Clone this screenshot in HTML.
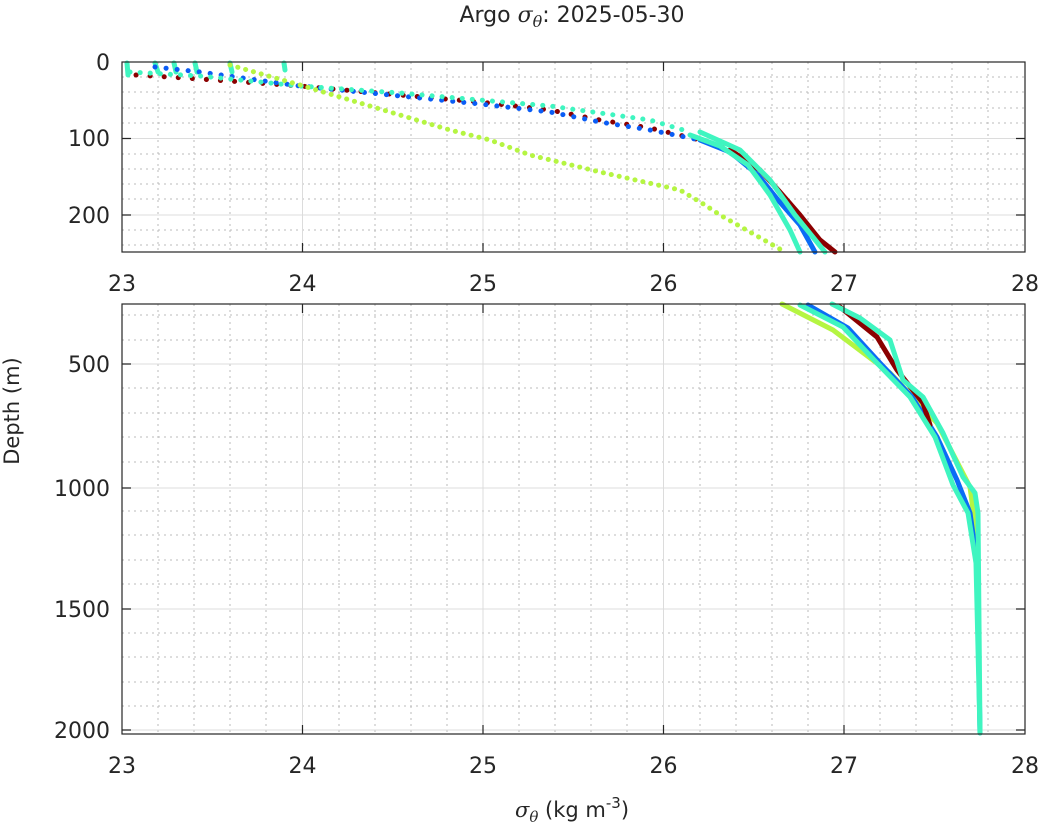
<!DOCTYPE html>
<html><head><meta charset="utf-8"><style>
body{margin:0;background:#fff}
text{font-family:"DejaVu Sans","Liberation Sans",sans-serif;fill:#262626}
</style></head><body>
<svg width="1044" height="835" viewBox="0 0 1044 835" xmlns="http://www.w3.org/2000/svg">
<rect width="1044" height="835" fill="#fff"/>
<text x="572" y="22" font-size="22" text-anchor="middle">Argo <tspan font-family="DejaVu Serif" font-style="italic">σ</tspan><tspan font-family="DejaVu Serif" font-style="italic" font-size="16" dy="5">θ</tspan><tspan dy="-5">: 2025-05-30</tspan></text>
<g id="grids" stroke="#bbb" stroke-width="1" stroke-dasharray="2,4">
<path d="M158,62V252M194,62V252M230,62V252M266,62V252M339,62V252M375,62V252M411,62V252M447,62V252M519,62V252M555,62V252M591,62V252M627,62V252M700,62V252M736,62V252M772,62V252M808,62V252M880,62V252M916,62V252M952,62V252M988,62V252"/>
<path d="M122,77H1025M122,92H1025M122,108H1025M122,123H1025M122,154H1025M122,169H1025M122,184H1025M122,199H1025M122,230H1025M122,245H1025"/>
<path d="M158,304V734M194,304V734M230,304V734M266,304V734M339,304V734M375,304V734M411,304V734M447,304V734M519,304V734M555,304V734M591,304V734M627,304V734M700,304V734M736,304V734M772,304V734M808,304V734M880,304V734M916,304V734M952,304V734M988,304V734"/>
<path d="M122,315H1025M122,340H1025M122,388H1025M122,413H1025M122,437H1025M122,462H1025M122,511H1025M122,535H1025M122,560H1025M122,584H1025M122,633H1025M122,657H1025M122,682H1025M122,706H1025"/>
</g>
<g stroke="#dcdcdc" stroke-width="1">
<path d="M302.5,62V252M483,62V252M663.5,62V252M844,62V252M122,138.5H1025M122,215H1025"/>
<path d="M302.5,304V734M483,304V734M663.5,304V734M844,304V734M122,364H1025M122,488H1025M122,609H1025M122,730H1025"/>
</g>
<g fill="none" stroke-linecap="round" stroke-linejoin="round">
<path d="M127,63L128,75M155,63L158,72M174,63L176,72M195,63L197,72M230,63L232,72M284,63L285,70" stroke="#3ff5c0" stroke-width="5"/>
<path d="M136,75L200,79L300,86L400,95L480,102L550,110L600,120L650,128L700,140L730,150" stroke="#8b0000" stroke-width="5" stroke-dasharray="0.1,14"/>
<path d="M155,67L200,72L300,86L400,96L480,104L550,112L600,122L650,130L700,140" stroke="#0a5cf5" stroke-width="5" stroke-dasharray="0.1,11"/>
<path d="M700,140L730,152L758,175L778,200L800,225L815,252" stroke="#0a6cf5" stroke-width="5"/>
<path d="M730,150L760,170L780,192L800,215L820,240L835,252" stroke="#8b0000" stroke-width="5"/>
<path d="M130,72L200,76L300,86L400,93L480,100L550,106L600,113L650,120L690,132" stroke="#3ff5c0" stroke-width="5" stroke-dasharray="0.1,10"/>
<path d="M690,135L720,146L748,165L770,195L790,230L800,252" stroke="#3ff5c0" stroke-width="5"/>
<path d="M700,132L740,150L770,180L795,215L825,252" stroke="#3ff5c0" stroke-width="5"/>
<path d="M230,65L300,85L350,100L400,115L450,130L490,140L530,155L600,172L680,190L705,205L720,215L750,232L785,252" stroke="#b5f542" stroke-width="5" stroke-dasharray="0.1,8"/>
</g>
<g fill="none" stroke-linecap="round" stroke-linejoin="round" stroke-width="5">
<path d="M782,304L833,330L890,373L937,423L970,487L978,547" stroke="#b5f542"/>
<path d="M808,305L848,328L880,363L912,397L937,437L957,480L970,513L977,563L980,733" stroke="#0a6cf5"/>
<path d="M840,307L877,337L897,370L923,403L930,425" stroke="#8b0000"/>
<path d="M800,305L843,327L877,363L910,397L935,437L953,485L968,513L976,563L980,733" stroke="#3ff5c0"/>
<path d="M832,304L860,318L890,340L903,380L923,397L943,433L963,477L975,493L978,513L980,733" stroke="#3ff5c0"/>
</g>
<g fill="none" stroke="#262626" stroke-width="1.2">
<rect x="122" y="62" width="903" height="190"/>
<rect x="122" y="304" width="903" height="430"/>
<path d="M302.5,62v9M483,62v9M663.5,62v9M844,62v9M302.5,252v-9M483,252v-9M663.5,252v-9M844,252v-9M122,138.5h9M122,215h9M1025,138.5h-9M1025,215h-9"/>
<path d="M302.5,304v9M483,304v9M663.5,304v9M844,304v9M302.5,734v-9M483,734v-9M663.5,734v-9M844,734v-9M122,364h9M122,488h9M122,609h9M122,730h9M1025,364h-9M1025,488h-9M1025,609h-9M1025,730h-9"/>
</g>
<g font-size="22" text-anchor="end">
<text x="110" y="70">0</text><text x="110" y="146">100</text><text x="110" y="223">200</text>
<text x="110" y="372">500</text><text x="110" y="496">1000</text><text x="110" y="617">1500</text><text x="110" y="738">2000</text>
</g>
<g font-size="22" text-anchor="middle">
<text x="122" y="291">23</text><text x="302.5" y="291">24</text><text x="483" y="291">25</text><text x="663.5" y="291">26</text><text x="844" y="291">27</text><text x="1025" y="291">28</text>
<text x="122" y="773">23</text><text x="302.5" y="773">24</text><text x="483" y="773">25</text><text x="663.5" y="773">26</text><text x="844" y="773">27</text><text x="1025" y="773">28</text>
</g>
<text transform="translate(19,411) rotate(-90)" font-size="21" text-anchor="middle">Depth (m)</text>
<text x="572" y="817" font-size="21" text-anchor="middle"><tspan font-family="DejaVu Serif" font-style="italic">σ</tspan><tspan font-family="DejaVu Serif" font-style="italic" font-size="15" dy="5">θ</tspan><tspan dy="-5"> (kg m</tspan><tspan font-size="15" dy="-9">-3</tspan><tspan dy="9">)</tspan></text>
</svg>
</body></html>
